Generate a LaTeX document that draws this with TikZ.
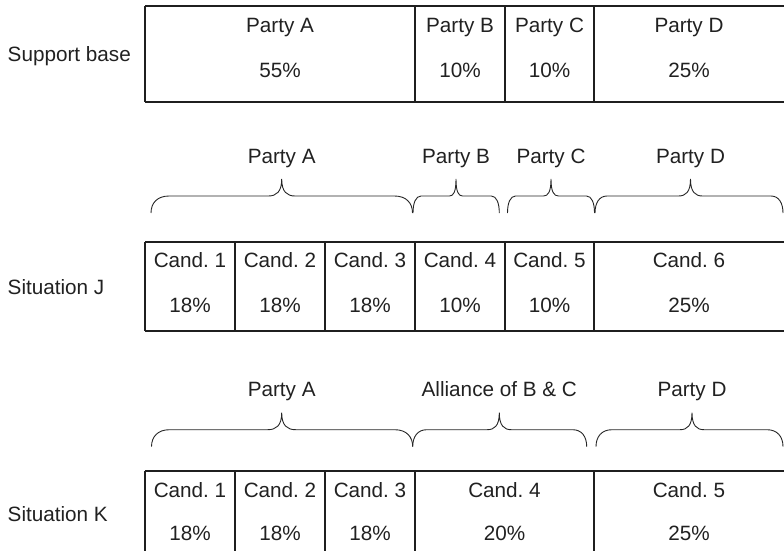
\documentclass[tikz,border=0pt]{standalone}
\usepackage{fontspec}
\setmainfont{Liberation Sans}
\newcommand\mybrace[6]{% x1, xm, x2, yend, corner, cusp half width
  \draw[brc] (#1,#4) .. controls (#1,{#4-10}) and ({#1+0.35*#5},{#4-17}) .. ({#1+#5},{#4-17})
    -- ({#2-#6},{#4-17}) .. controls ({#2-0.4*#6},{#4-17}) and (#2,{#4-21}) .. (#2,{#4-34})
    .. controls (#2,{#4-21}) and ({#2+0.4*#6},{#4-17}) .. ({#2+#6},{#4-17})
    -- ({#3-#5},{#4-17}) .. controls ({#3-0.35*#5},{#4-17}) and (#3,{#4-10}) .. (#3,#4);}
\begin{document}
\begin{tikzpicture}[x=1pt,y=-1pt,
  tbl/.style={line width=1.1pt, draw=black!88},
  brc/.style={line width=0.9pt, draw=black!85},
  lbl/.style={inner sep=0pt, anchor=base, text=black!87, font=\fontsize{20.7}{24}\selectfont},
  side/.style={lbl, anchor=base west}]
\useasboundingbox (0,0) rectangle (784,550);

% ---------- Support base ----------
\node[side] (lsup) at (7.5,61.5) {Support base};
\draw[tbl] (145,6) -- (790,6);
\draw[tbl] (145,102) -- (790,102);
\foreach \x in {145,415,505,594} \draw[tbl] (\x,6) -- (\x,102);
\node[lbl] (tA) at (280,32) {Party A};
\node[lbl] (tB) at (460,32) {Party B};
\node[lbl] (tC) at (549.5,32) {Party C};
\node[lbl] (tD) at (689,32) {Party D};
\node[lbl] (pA) at (280,77) {55\%};
\node[lbl] (pB) at (460,77) {10\%};
\node[lbl] (pC) at (549.5,77) {10\%};
\node[lbl] (pD) at (689,77) {25\%};

% ---------- Situation J ----------
\node[lbl] (jbA) at (281.7,163) {Party A};
\node[lbl] (jbB) at (456,163) {Party B};
\node[lbl] (jbC) at (551,163) {Party C};
\node[lbl] (jbD) at (690.5,163) {Party D};
\mybrace{151}{281.7}{412.5}{213}{18}{13.5}
\mybrace{413}{456}{499.3}{213}{8}{6.5}
\mybrace{507.5}{551}{594.5}{213}{8}{7.5}
\mybrace{595}{690.5}{783}{213}{12}{12}

\node[side] (lJ) at (7.5,294) {Situation J};
\draw[tbl] (145,242) -- (790,242);
\draw[tbl] (145,331) -- (790,331);
\foreach \x in {145,235,325,415,505,594} \draw[tbl] (\x,242) -- (\x,331);
\node[lbl] (jc1) at (190,267) {Cand.\ 1};
\node[lbl] (jc2) at (280,267) {Cand.\ 2};
\node[lbl] (jc3) at (370,267) {Cand.\ 3};
\node[lbl] (jc4) at (460,267) {Cand.\ 4};
\node[lbl] (jc5) at (549.5,267) {Cand.\ 5};
\node[lbl] (jc6) at (689,267) {Cand.\ 6};
\node[lbl] (jp1) at (190,312) {18\%};
\node[lbl] (jp2) at (280,312) {18\%};
\node[lbl] (jp3) at (370,312) {18\%};
\node[lbl] (jp4) at (460,312) {10\%};
\node[lbl] (jp5) at (549.5,312) {10\%};
\node[lbl] (jp6) at (689,312) {25\%};

% ---------- Situation K ----------
\node[lbl] (kbA) at (281.7,396) {Party A};
\node[lbl] (kbBC) at (499.3,396) {Alliance of B \& C};
\node[lbl] (kbD) at (692,396) {Party D};
\mybrace{151.5}{281.7}{412.7}{446.7}{18}{14}
\mybrace{412.7}{499.3}{586.7}{446.7}{14}{12}
\mybrace{596}{692}{783}{446.7}{16}{12}

\node[side] (lK) at (7.5,521.5) {Situation K};
\draw[tbl] (145,471) -- (790,471);
\foreach \x in {145,235,325,415,594} \draw[tbl] (\x,471) -- (\x,560);
\node[lbl] (kc1) at (190,497) {Cand.\ 1};
\node[lbl] (kc2) at (280,497) {Cand.\ 2};
\node[lbl] (kc3) at (370,497) {Cand.\ 3};
\node[lbl] (kc4) at (504.5,497) {Cand.\ 4};
\node[lbl] (kc5) at (689,497) {Cand.\ 5};
\node[lbl] (kp1) at (190,540) {18\%};
\node[lbl] (kp2) at (280,540) {18\%};
\node[lbl] (kp3) at (370,540) {18\%};
\node[lbl] (kp4) at (504.5,540) {20\%};
\node[lbl] (kp5) at (689,540) {25\%};
\end{tikzpicture}
\end{document}
